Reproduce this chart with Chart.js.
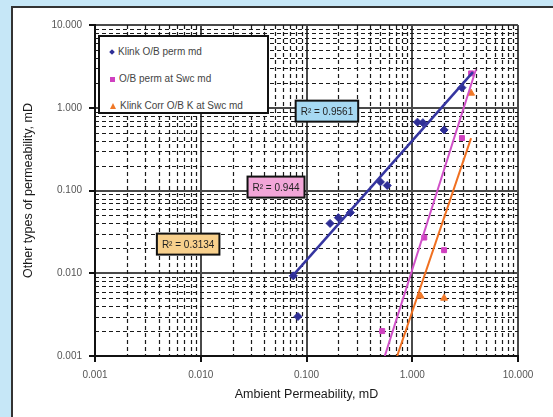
<!DOCTYPE html>
<html>
<head>
<meta charset="utf-8">
<script src="https://cdn.jsdelivr.net/npm/chart.js@4.4.1/dist/chart.umd.min.js"></script>
<style>
  body { margin: 0; background: #c6e7f7; overflow: hidden; }
  #panel { position: absolute; left: 11px; top: 6px; width: 560px; height: 430px; background: #fff; border: 2px solid #333; }
  #wrap { position: absolute; left: 0; top: 0; width: 553px; height: 417px; }
  #legenda { position: absolute; left: 98px; top: 35px; width: 167px; height: 75px; background: #fff; border: 2px solid #111;
             font: 10px "Liberation Sans", Arial, sans-serif; color: #444; }
  .item { position: absolute; left: 10px; height: 12px; line-height: 12px; white-space: nowrap; }
  .item span.mk { display: inline-block; vertical-align: middle; margin-right: 4px; }
</style>
</head>
<body>
<div id="panel"></div>
<div id="wrap"><canvas id="grafico" width="553" height="417"></canvas></div>
<div id="legenda">
  <div class="item" style="top:9px"><span class="mk" style="width:4px;height:4px;background:#2e2e96;transform:rotate(45deg)"></span>Klink O/B perm md</div>
  <div class="item" style="top:36px"><span class="mk" style="width:5px;height:5px;background:#d040c0"></span>O/B perm at Swc md</div>
  <div class="item" style="top:63px"><span class="mk" style="width:0;height:0;border-left:3px solid transparent;border-right:3px solid transparent;border-bottom:6px solid #f07828"></span>Klink Corr O/B K at Swc md</div>
</div>
<script>
// pontos medidos
const klinkX = [0.075, 0.083, 0.167, 0.2, 0.26, 0.5, 0.58, 1.12, 1.26, 2.0, 2.95];
const klinkY = [0.0093, 0.003, 0.04, 0.047, 0.054, 0.127, 0.115, 0.67, 0.66, 0.54, 1.75];
const swcX = [0.52, 1.3, 2.0, 2.95, 3.6];
const swcY = [0.002, 0.027, 0.019, 0.43, 2.6];
const corrX = [1.2, 2.0, 3.6];
const corrY = [0.0053, 0.005, 1.5];

// linhas de tendencia (pontas)
const tendKlinkX = [0.075, 3.75];
const tendKlinkY = [0.0095, 2.7];
const tendSwcX = [0.55, 4.0];
const tendSwcY = [0.001, 2.9];
const tendCorrX = [0.72, 3.6];
const tendCorrY = [0.001, 0.43];

const ticksDecada = [0.001, 0.01, 0.1, 1, 10];

const rotulosR2 = ['R² = 0.9561', 'R² = 0.944', 'R² = 0.3134'];

function pares(xs, ys) {
    return xs.map((x, i) => ({ x: x, y: ys[i] }));
}

// grade secundaria tracejada (2..9 de cada decada)
const gradeMenor = {
    id: 'gradeMenor',
    beforeDatasetsDraw(chart) {
        const { ctx, chartArea: a, scales: { x, y } } = chart;
        ctx.save();
        ctx.strokeStyle = '#1a1a1a';
        ctx.lineWidth = 1.2;
        ctx.setLineDash([4, 3]);
        for (let k = 0; k < ticksDecada.length - 1; k++) {
            for (let m = 2; m <= 9; m++) {
                const v = ticksDecada[k] * m;
                const px = Math.round(x.getPixelForValue(v)) + 0.5;
                ctx.beginPath(); ctx.moveTo(px, a.top); ctx.lineTo(px, a.bottom); ctx.stroke();
                const py = Math.round(y.getPixelForValue(v)) + 0.5;
                ctx.beginPath(); ctx.moveTo(a.left, py); ctx.lineTo(a.right, py); ctx.stroke();
            }
        }
        ctx.restore();
    }
};

// caixas com R2
const ancorasR2 = [
    { x: 0.156, y: 0.91, fundo: '#a6d9f2' },
    { x: 0.0515, y: 0.11, fundo: '#f2a6d8' },
    { x: 0.0076, y: 0.0225, fundo: '#f8d08c' }
];
const caixasR2 = {
    id: 'caixasR2',
    afterDatasetsDraw(chart) {
        const { ctx, scales: { x, y } } = chart;
        ctx.save();
        ctx.font = '10px "Liberation Sans", Arial, sans-serif';
        ctx.textAlign = 'center';
        ctx.textBaseline = 'middle';
        rotulosR2.forEach((txt, i) => {
            const an = ancorasR2[i];
            const cx = x.getPixelForValue(an.x);
            const cy = y.getPixelForValue(an.y);
            const w = ctx.measureText(txt).width + 10;
            const h = 21;
            ctx.fillStyle = an.fundo;
            ctx.fillRect(cx - w / 2, cy - h / 2, w, h);
            ctx.strokeStyle = '#111';
            ctx.lineWidth = 2;
            ctx.strokeRect(cx - w / 2, cy - h / 2, w, h);
            ctx.fillStyle = '#222';
            ctx.fillText(txt, cx, cy + 1);
        });
        ctx.restore();
    }
};

function eixo(titulo, ehX) {
    return {
        type: 'logarithmic',
        min: 0.001,
        max: 10,
        afterBuildTicks: function(scale) {
            scale.ticks = ticksDecada.map(v => ({ value: v }));
        },
        afterFit: function(scale) {
            if (ehX) scale.height = 61; else scale.width = 95;
        },
        ticks: {
            autoSkip: false,
            maxRotation: 0,
            padding: 7,
            color: '#555',
            font: { family: '"Liberation Sans", Arial, sans-serif', size: 10 },
            callback: function(v) { return Number(v).toFixed(3); }
        },
        grid: {
            color: '#4a4a4a',
            lineWidth: 2,
            tickLength: 6,
            tickColor: '#111'
        },
        border: { color: '#111', width: 2 },
        title: {
            display: true,
            text: titulo,
            color: '#1a1a1a',
            font: { family: '"Liberation Sans", Arial, sans-serif', size: 12.5 },
            padding: ehX ? { top: 0, bottom: 15 } : { top: 21, bottom: 0 }
        }
    };
}

new Chart(document.getElementById('grafico').getContext('2d'), {
    type: 'scatter',
    data: {
        datasets: [
            { label: 'tendKlink', type: 'line', data: pares(tendKlinkX, tendKlinkY), borderColor: '#3535a0', borderWidth: 2.5, pointRadius: 0 },
            { label: 'tendSwc', type: 'line', data: pares(tendSwcX, tendSwcY), borderColor: '#d050c8', borderWidth: 2, pointRadius: 0 },
            { label: 'tendCorr', type: 'line', data: pares(tendCorrX, tendCorrY), borderColor: '#f07020', borderWidth: 2, pointRadius: 0 },
            { label: 'Klink O/B perm md', data: pares(klinkX, klinkY), pointStyle: 'rectRot', pointRadius: 4, backgroundColor: '#2e2e96', borderColor: '#2e2e96' },
            { label: 'O/B perm at Swc md', data: pares(swcX, swcY), pointStyle: 'rect', pointRadius: 3.5, backgroundColor: '#d040c0', borderColor: '#d040c0' },
            { label: 'Klink Corr O/B K at Swc md', data: pares(corrX, corrY), pointStyle: 'triangle', pointRadius: 4, backgroundColor: '#f07828', borderColor: '#f07828' }
        ]
    },
    options: {
        responsive: false,
        animation: false,
        layout: { padding: { top: 25, right: 35, left: 0, bottom: 0 } },
        plugins: { legend: { display: false }, tooltip: { enabled: false } },
        scales: {
            x: eixo('Ambient Permeability, mD', true),
            y: eixo('Other types of permeability, mD', false)
        }
    },
    plugins: [gradeMenor, caixasR2]
});
</script>
</body>
</html>
